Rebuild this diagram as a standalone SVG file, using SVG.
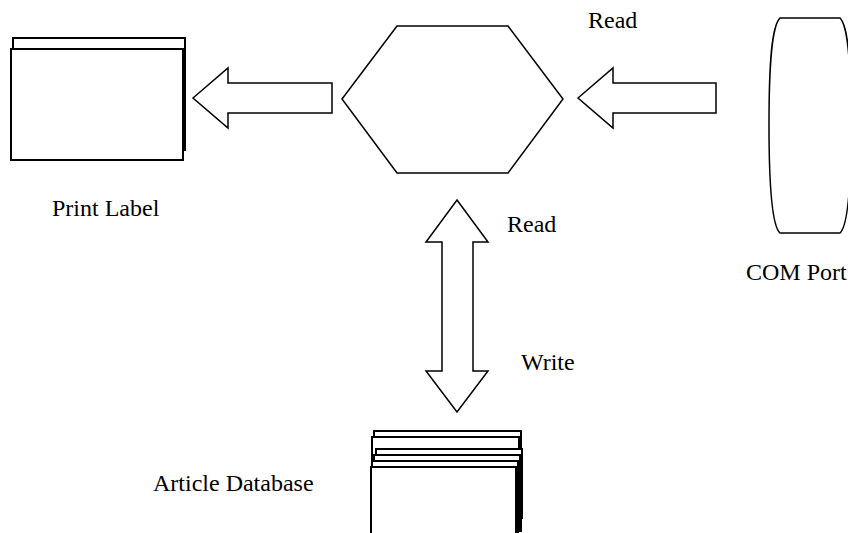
<svg xmlns="http://www.w3.org/2000/svg" width="848" height="533" viewBox="0 0 848 533">
<style>
.shape{fill:#fff;stroke:#000;stroke-width:1.5;stroke-linejoin:miter}
.thick{fill:#fff;stroke:#000;stroke-width:2}
.lbl{font-family:"Liberation Serif","Times New Roman",serif;font-size:24px;fill:#000}
</style>
<rect width="848" height="533" fill="#fff"/>
<g id="print-label">
<rect class="thick" x="13" y="38" width="172" height="112"/>
<rect class="thick" x="11" y="49" width="172" height="111"/>
<text class="lbl" x="52" y="216">Print Label</text>
</g>
<g id="process">
<polygon class="shape" points="342,99 397,26 508,26 563,99 508,173 397,173"/>
</g>
<g id="com-port">
<path class="shape" d="M780,18 L840,18 C848,26 851,60 851,125 C851,190 848,226 840,233 L780,233 C772,226 769,190 769,125 C769,60 772,26 780,18 Z"/>
<text class="lbl" x="746" y="280">COM Port</text>
</g>
<g id="article-database">
<rect class="thick" x="374" y="431" width="147" height="100"/>
<rect class="thick" x="372" y="437" width="147" height="94"/>
<rect class="thick" x="376" y="449" width="146" height="69"/>
<rect class="thick" x="374" y="455" width="146" height="70"/>
<rect class="thick" x="372" y="461" width="146" height="80"/>
<rect class="thick" x="371" y="467" width="145" height="80"/>
<text class="lbl" x="153" y="491">Article Database</text>
</g>
<g id="connectors">
<polygon class="shape" points="193,98 228,68 228,83 332,83 332,113 228,113 228,128"/>
<polygon class="shape" points="578,98 613,68 613,83 716,83 716,113 613,113 613,128"/>
<polygon class="shape" points="457,200 488,242 473,242 473,371 488,371 457,412 426,371 442,371 442,242 426,242"/>
<text class="lbl" x="588" y="28">Read</text>
<text class="lbl" x="507" y="232">Read</text>
<text class="lbl" x="521" y="370">Write</text>
</g>
</svg>
